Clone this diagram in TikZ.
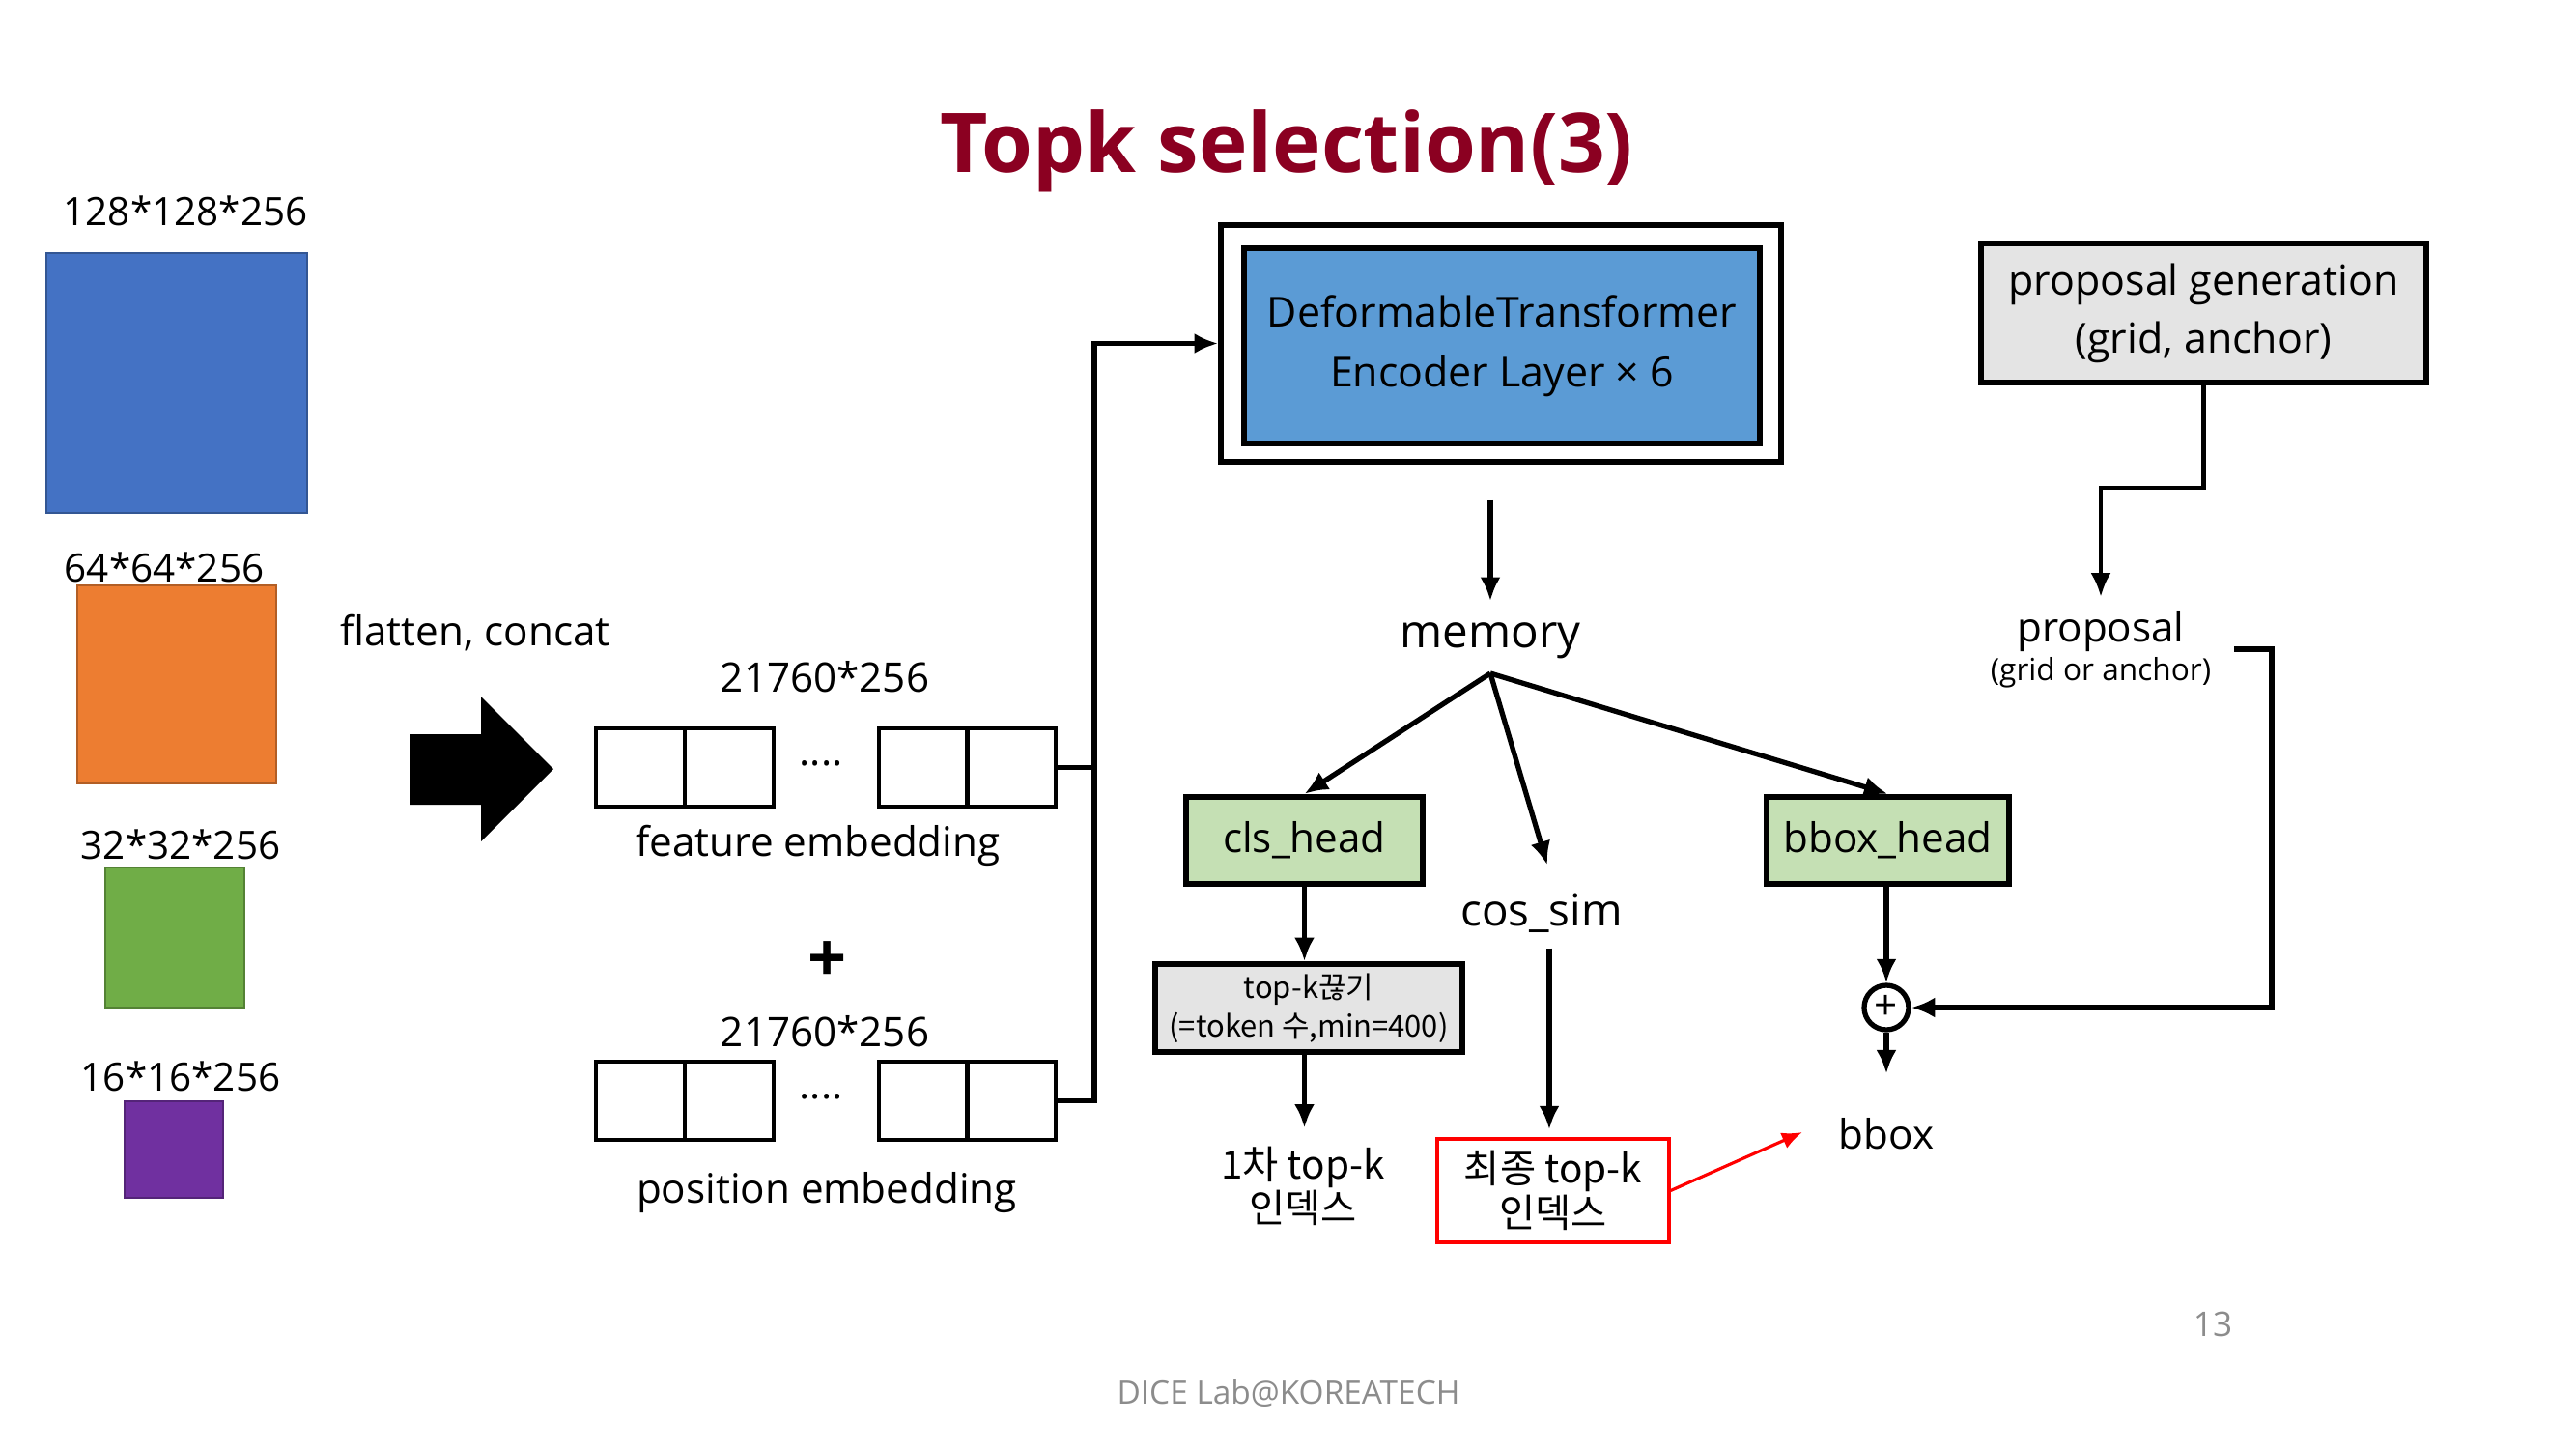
\documentclass[tikz,border=0pt]{standalone}
\usepackage{fontspec}
\setmainfont{Open Sans}
\newfontfamily\krfont{Noto Sans CJK KR}
\usepackage{xcolor}
\usepackage{tikz}
\usetikzlibrary{positioning,arrows.meta,calc}
\definecolor{titlered}{RGB}{139,0,33}
\definecolor{fmblue}{RGB}{68,114,196}
\definecolor{fmorange}{RGB}{237,125,49}
\definecolor{fmgreen}{RGB}{112,173,71}
\definecolor{fmpurple}{RGB}{112,48,160}
\definecolor{encblue}{RGB}{91,155,213}
\definecolor{headgreen}{RGB}{197,224,180}
\definecolor{boxgray}{RGB}{228,228,228}
\definecolor{footgray}{RGB}{140,140,140}

\begin{document}
\begin{tikzpicture}[
        txt/.style={font=\fontsize{12}{14.5}\selectfont, align=center, inner sep=1pt},
        kr/.style={font=\krfont\fontsize{11.5}{13}\selectfont, align=center, inner sep=1pt},
        fm/.style={draw=#1!75!black, fill=#1, line width=0.6pt, inner sep=0pt},
        cell/.style={draw, line width=0.9pt, minimum width=0.92cm,
                     minimum height=0.81cm, inner sep=0pt},
        h/.style={draw, line width=1.8pt, fill=headgreen, minimum width=2.45cm,
                  minimum height=0.9cm, inner sep=0pt,
                  font=\fontsize{12}{14.5}\selectfont},
        bx/.style={draw, line width=1.6pt, align=center, inner sep=0pt},
        arr/.style={-{Latex[length=7pt,width=6pt]}, line width=1.5pt},
        ln/.style={line width=1.5pt}
      ]
        \useasboundingbox (0,0) rectangle (26.67,-15);
        \node[font=\fontsize{24.3}{28}\selectfont\bfseries, text=titlered]
              (title) at (13.32,-1.56) {Topk selection(3)};

        \node[fm=fmblue, minimum width=2.70cm, minimum height=2.69cm] (sq1) at (1.83,-3.965) {};
        \node[fm=fmorange, minimum width=2.06cm, minimum height=2.05cm] (sq2) at (1.83,-7.085) {};
        \node[fm=fmgreen, minimum width=1.44cm, minimum height=1.45cm] (sq3) at (1.81,-9.705) {};
        \node[fm=fmpurple, minimum width=1.02cm, minimum height=1.00cm] (sq4) at (1.80,-11.90) {};
        \node[txt, font=\fontsize{11.5}{14}\selectfont] (d1) at (1.92,-2.18) {128*128*256};
        \node[txt, font=\fontsize{11.5}{14}\selectfont] (d2) at (1.70,-5.87) {64*64*256};
        \node[txt, font=\fontsize{11.5}{14}\selectfont] (d3) at (1.87,-8.74) {32*32*256};
        \node[txt, font=\fontsize{11.5}{14}\selectfont] (d4) at (1.87,-11.14) {16*16*256};

        \node[txt] (flat) at (4.92,-6.55) {flatten, concat};
        \fill (4.24,-7.60) -- (4.98,-7.60) -- (4.98,-7.21) -- (5.73,-7.96)
              -- (4.98,-8.71) -- (4.98,-8.33) -- (4.24,-8.33) -- cycle;

        \foreach \i/\x in {1/6.63,2/7.55,3/9.56,4/10.47} {
          \node[cell] (f\i) at (\x,-7.945) {};
          \node[cell] (p\i) at (\x,-11.395) {};
        }
        \node[txt] (fdots) at (8.50,-7.90) {....};
        \node[txt] (pdots) at (8.50,-11.35) {....};
        \node[txt] (fdim) at (8.54,-7.01) {21760*256};
        \node[txt] (pdim) at (8.54,-10.68) {21760*256};
        \node[txt] (fname) at (8.47,-8.75) {feature embedding};
        \node[txt] (pname) at (8.56,-12.35) {position embedding};
        \node[font=\fontsize{20}{24}\selectfont\bfseries] (plus) at (8.57,-9.96) {+};

        \node[bx, minimum width=5.8cm, minimum height=2.45cm] (enc) at (15.54,-3.555) {};
        \node[bx, fill=encblue, minimum width=5.34cm, minimum height=2.02cm,
              font=\fontsize{12.2}{17.5}\selectfont]
              (encin) at (15.55,-3.58) {DeformableTransformer\\Encoder Layer × 6};
        \coordinate (bus) at (11.33,-3.555);
        \draw[ln] (f4.east) -- (f4.east -| bus);
        \draw[arr] (p4.east) -| (bus) -- (enc.west);

        \node[txt, font=\fontsize{13.5}{16}\selectfont] (mem) at (15.43,-6.63) {memory};
        \draw[arr, shorten <=0.37cm, shorten >=0.18cm] (enc.south -| mem.north) -- (mem.north);
        \coordinate (apex) at (15.43,-6.97);

        \node[h] (cls) at (13.505,-8.70) {cls\_head};
        \node[h, minimum width=2.51cm] (bbh) at (19.545,-8.70) {bbox\_head};
        \node[txt, font=\fontsize{13}{15}\selectfont] (cos) at (15.96,-9.45) {cos\_sim};
        \draw[arr] (apex) -- (cls.north);
        \draw[arr] (apex) -- ([xshift=0.06cm, yshift=0.25cm]cos.north);
        \draw[arr] (apex) -- (bbh.north);

        \node[bx, fill=boxgray, minimum width=3.18cm, minimum height=0.91cm,
              font=\krfont\fontsize{8.8}{11.5}\selectfont]
              (topk) at (13.55,-10.435) {top-k끊기\\(=token 수,min=400)};
        \node[kr] (first) at (13.49,-12.28) {1차 top-k\\인덱스};
        \node[kr, draw=red, line width=0.9pt, minimum width=2.40cm, minimum height=1.07cm]
              (final) at (16.08,-12.325) {최종 top-k\\인덱스};
        \draw[arr] (cls.south) -- (cls.south |- topk.north);
        \draw[arr, shorten >=0.15cm] (cls |- topk.south) -- (cls |- first.north);
        \draw[arr, shorten <=0.12cm, shorten >=0.08cm] ([xshift=0.08cm]cos.south) -- ([xshift=0.08cm]cos.south |- final.north);

        \node[draw, circle, line width=1.5pt, minimum size=0.46cm, inner sep=0pt,
              font=\fontsize{12}{12}\selectfont] (oplus) at (19.53,-10.43) {+};
        \node[txt] (bbox) at (19.53,-11.74) {bbox};
        \draw[arr] (bbh.south -| oplus) -- (oplus.north);
        \draw[arr, shorten >=0.42cm] (oplus.south) -- (bbox.north);
        \coordinate (redtip) at (18.66,-11.72);
        \draw[red, -{Latex[length=6pt,width=5pt]}, line width=0.9pt] (final.east) -- (redtip);

        \node[bx, fill=boxgray, minimum width=4.61cm, minimum height=1.44cm,
              font=\fontsize{12.2}{17}\selectfont]
              (pgen) at (22.815,-3.24) {proposal generation\\(grid, anchor)};
        \node[txt] (prop) at (21.75,-6.72)
              {proposal\\[-3pt]{\fontsize{9}{11}\selectfont (grid or anchor)}};
        \coordinate (pbend) at (22.815,-5.05);
        \draw[arr, line width=1.2pt, shorten >=0.1cm] (pgen.south) -- (pbend) -| (prop.north);
        \coordinate (pright) at (23.52,-6.68);
        \draw[arr] ([xshift=0.2cm]prop.east) -- (prop.east -| pright) |- (oplus.east);

        \node[text=footgray, font=\fontsize{10}{12}\selectfont] (page) at (22.91,-13.71) {13};
        \node[text=footgray, font=\fontsize{9.5}{12}\selectfont] (foot) at (13.34,-14.42) {DICE Lab@KOREATECH};
      \end{tikzpicture}
\end{document}
